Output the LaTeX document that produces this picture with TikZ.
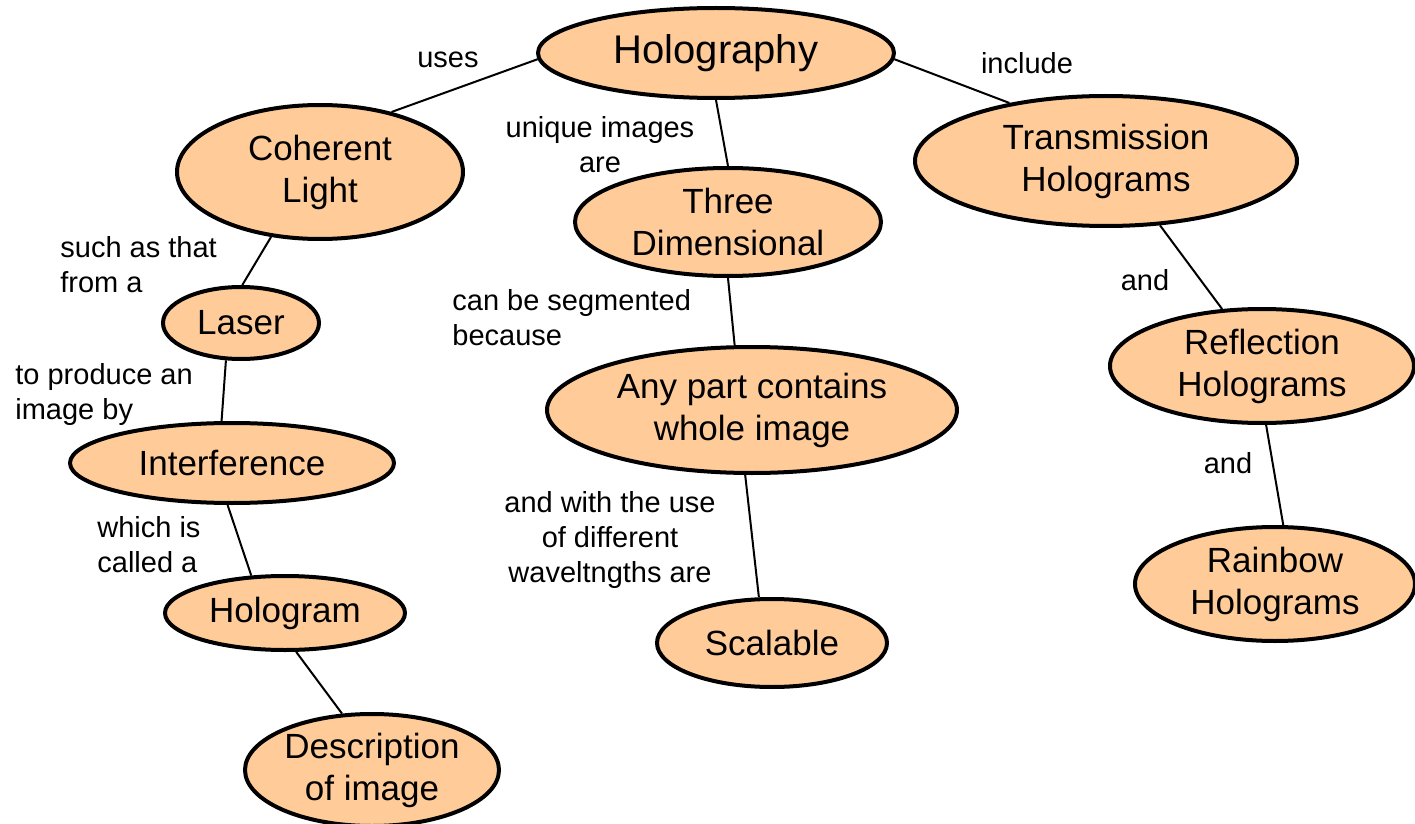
\documentclass[tikz,border=0pt]{standalone}
\usepackage{fontspec}
\setmainfont{Liberation Sans}
\usetikzlibrary{shapes.geometric}
\definecolor{peach}{HTML}{FFCC99}

\begin{document}
\begin{tikzpicture}[x=0.5pt,y=-0.5pt,
    concept/.style={ellipse,draw=black,line width=2pt,fill=peach,inner sep=0pt,
        align=center,font=\fontsize{17.5}{21}\selectfont},
    phrase/.style={font=\fontsize{14.5}{17.5}\selectfont,inner sep=0pt},
    link/.style={line width=1pt}]
    \useasboundingbox (0,0) rectangle (1415,824);
    % concepts
    \node[concept,minimum width=178pt,minimum height=45pt,font=\fontsize{20}{24}\selectfont]
        (holo) at (716,53) {Holography};
    \node[concept,minimum width=143pt,minimum height=67pt] (coh) at (320,172) {Coherent\\Light};
    \node[concept,minimum width=191pt,minimum height=65pt] (trans) at (1106,161) {Transmission\\Holograms};
    \node[concept,minimum width=153pt,minimum height=54pt] (three) at (728,222) {Three\\Dimensional};
    \node[concept,minimum width=78pt,minimum height=36pt] (laser) at (241,323) {Laser};
    \node[concept,minimum width=162pt,minimum height=40pt] (interf) at (232,463) {Interference};
    \node[concept,minimum width=120pt,minimum height=37pt] (hgram) at (285,613) {Hologram};
    \node[concept,minimum width=127pt,minimum height=56pt] (descr) at (372,770) {Description\\of image};
    \node[concept,minimum width=205pt,minimum height=63pt] (anypart) at (752,410) {Any part contains\\whole image};
    \node[concept,minimum width=115pt,minimum height=44pt] (scal) at (772,643) {Scalable};
    \node[concept,minimum width=152pt,minimum height=57pt] (refl) at (1262,366) {Reflection\\Holograms};
    \node[concept,minimum width=140pt,minimum height=57pt] (rainbow) at (1275,584) {Rainbow\\Holograms};
    % linking phrases
    \node[phrase] (uses) at (448,60) {uses};
    \node[phrase] (incl) at (1027,63) {include};
    \node[phrase,align=center] (uniq) at (600,145) {unique images\\are};
    \node[phrase,align=left,anchor=west] (such) at (60,265) {such as that\\from a};
    \node[phrase,align=left,anchor=west] (prod) at (15,395) {to produce an\\image by};
    \node[phrase,align=left,anchor=west] (which) at (97,545) {which is\\called a};
    \node[phrase,align=left,anchor=west] (segm) at (452,318) {can be segmented\\because};
    \node[phrase,align=center] (wavel) at (610,540) {and with the use\\of different\\waveltngths are};
    \node[phrase] (and1) at (1145,280) {and};
    \node[phrase] (and2) at (1228,463) {and};
    % links
    \draw[link] (holo.182) -- (coh.40);
    \draw[link] (holo.-2) -- (trans.149);
    \draw[link] (holo.south) -- (three.north);
    \draw[link] (coh.233) -- (laser.88);
    \draw[link] (laser.248) -- (interf.104);
    \draw[link] (interf.264) -- (hgram.132);
    \draw[link] (hgram.286) -- (descr.118);
    \draw[link] (three.south) -- (anypart.105);
    \draw[link] (anypart.264) -- (scal.106);
    \draw[link] (trans.310) -- (refl.125);
    \draw[link] (refl.274) -- (rainbow.82);
\end{tikzpicture}
\end{document}
